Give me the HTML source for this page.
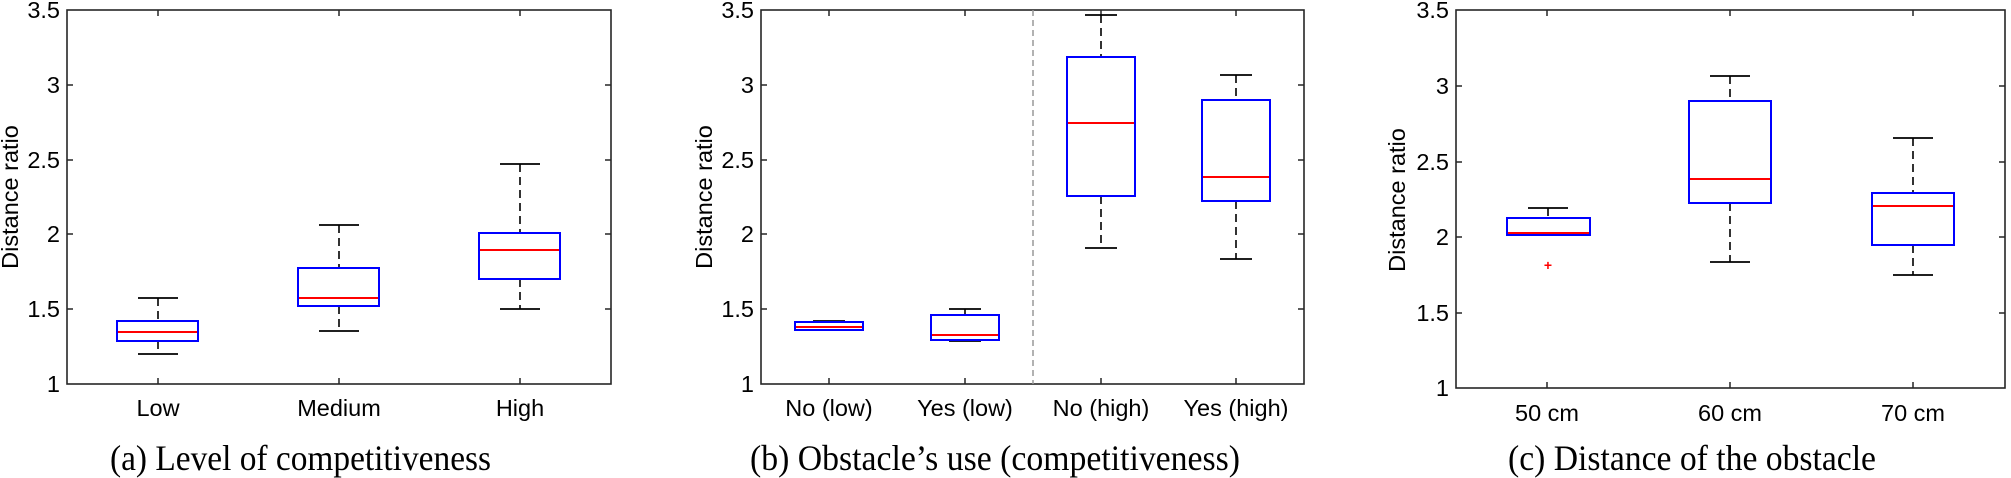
<!DOCTYPE html>
<html><head><meta charset="utf-8"><style>
html,body{margin:0;padding:0;background:#fff;}
svg{display:block;}
.t{font-family:"Liberation Sans",Arial,sans-serif;font-size:23.5px;fill:#000;}
.c{font-family:"Liberation Serif","Times New Roman",serif;font-size:36px;fill:#000;}
.ax{fill:none;stroke:#262626;stroke-width:1.6;}
.bx{fill:none;stroke:#0000ff;stroke-width:2;}
.md{stroke:#ff0000;stroke-width:2;}
.wk{stroke:#000;stroke-width:1.6;stroke-dasharray:8,5;}
.cp{stroke:#000;stroke-width:1.8;}
</style></head><body>
<svg width="2011" height="478" viewBox="0 0 2011 478" xmlns="http://www.w3.org/2000/svg">
<g>
<rect class="ax" x="67" y="10" width="544" height="374"/>
<g stroke="#262626" stroke-width="1.5">
<line x1="67" y1="85" x2="73" y2="85"/><line x1="67" y1="160" x2="73" y2="160"/><line x1="67" y1="234" x2="73" y2="234"/><line x1="67" y1="309" x2="73" y2="309"/>
<line x1="611" y1="85" x2="605" y2="85"/><line x1="611" y1="160" x2="605" y2="160"/><line x1="611" y1="234" x2="605" y2="234"/><line x1="611" y1="309" x2="605" y2="309"/>
<line x1="158" y1="384" x2="158" y2="378"/><line x1="339" y1="384" x2="339" y2="378"/><line x1="520" y1="384" x2="520" y2="378"/>
<line x1="158" y1="10" x2="158" y2="16"/><line x1="339" y1="10" x2="339" y2="16"/><line x1="520" y1="10" x2="520" y2="16"/>
</g>
<g class="t" text-anchor="end">
<text x="60" y="18">3.5</text><text x="60" y="93">3</text><text x="60" y="168">2.5</text><text x="60" y="242">2</text><text x="60" y="317">1.5</text><text x="60" y="392">1</text>
</g>
<text class="t" transform="translate(18,197) rotate(-90)" text-anchor="middle">Distance ratio</text>
<g class="t" text-anchor="middle"><text x="158" y="416">Low</text><text x="339" y="416">Medium</text><text x="520" y="416">High</text></g>
<line class="wk" x1="158" y1="298" x2="158" y2="321"/><line class="wk" x1="158" y1="341" x2="158" y2="354"/>
<line class="cp" x1="138" y1="298" x2="178" y2="298"/><line class="cp" x1="138" y1="354" x2="178" y2="354"/>
<rect class="bx" x="117" y="321" width="81" height="20"/><line class="md" x1="118" y1="332" x2="197" y2="332"/>
<line class="wk" x1="339" y1="225" x2="339" y2="268"/><line class="wk" x1="339" y1="306" x2="339" y2="331"/>
<line class="cp" x1="319" y1="225" x2="359" y2="225"/><line class="cp" x1="319" y1="331" x2="359" y2="331"/>
<rect class="bx" x="298" y="268" width="81" height="38"/><line class="md" x1="299" y1="298" x2="378" y2="298"/>
<line class="wk" x1="520" y1="164" x2="520" y2="233"/><line class="wk" x1="520" y1="279" x2="520" y2="309"/>
<line class="cp" x1="500" y1="164" x2="540" y2="164"/><line class="cp" x1="500" y1="309" x2="540" y2="309"/>
<rect class="bx" x="479" y="233" width="81" height="46"/><line class="md" x1="480" y1="250" x2="559" y2="250"/>
<text class="c" x="110" y="470" textLength="381" lengthAdjust="spacingAndGlyphs">(a)  Level of competitiveness</text>
</g>
<g>
<rect class="ax" x="761" y="10" width="543" height="374"/>
<g stroke="#262626" stroke-width="1.5">
<line x1="761" y1="85" x2="767" y2="85"/><line x1="761" y1="160" x2="767" y2="160"/><line x1="761" y1="234" x2="767" y2="234"/><line x1="761" y1="309" x2="767" y2="309"/>
<line x1="1304" y1="85" x2="1298" y2="85"/><line x1="1304" y1="160" x2="1298" y2="160"/><line x1="1304" y1="234" x2="1298" y2="234"/><line x1="1304" y1="309" x2="1298" y2="309"/>
<line x1="829" y1="384" x2="829" y2="378"/><line x1="965" y1="384" x2="965" y2="378"/><line x1="1101" y1="384" x2="1101" y2="378"/><line x1="1236" y1="384" x2="1236" y2="378"/>
<line x1="829" y1="10" x2="829" y2="16"/><line x1="965" y1="10" x2="965" y2="16"/><line x1="1101" y1="10" x2="1101" y2="16"/><line x1="1236" y1="10" x2="1236" y2="16"/>
</g>
<line x1="1033" y1="10" x2="1033" y2="384" stroke="#999" stroke-width="1.5" stroke-dasharray="6,4"/>
<g class="t" text-anchor="end">
<text x="754" y="18">3.5</text><text x="754" y="93">3</text><text x="754" y="168">2.5</text><text x="754" y="242">2</text><text x="754" y="317">1.5</text><text x="754" y="392">1</text>
</g>
<text class="t" transform="translate(712,197) rotate(-90)" text-anchor="middle">Distance ratio</text>
<g class="t" text-anchor="middle"><text x="829" y="416">No (low)</text><text x="965" y="416">Yes (low)</text><text x="1101" y="416">No (high)</text><text x="1236" y="416">Yes (high)</text></g>
<line class="cp" x1="813" y1="321" x2="845" y2="321"/><line class="cp" x1="813" y1="330" x2="845" y2="330"/>
<rect class="bx" x="795" y="322" width="68" height="8"/><line class="md" x1="796" y1="327" x2="862" y2="327"/>
<line class="wk" x1="965" y1="309" x2="965" y2="315"/>
<line class="cp" x1="949" y1="309" x2="981" y2="309"/><line class="cp" x1="949" y1="341" x2="981" y2="341"/>
<rect class="bx" x="931" y="315" width="68" height="25"/><line class="md" x1="932" y1="335" x2="998" y2="335"/>
<line class="wk" x1="1101" y1="15" x2="1101" y2="57"/><line class="wk" x1="1101" y1="196" x2="1101" y2="248"/>
<line class="cp" x1="1085" y1="15" x2="1117" y2="15"/><line class="cp" x1="1085" y1="248" x2="1117" y2="248"/>
<rect class="bx" x="1067" y="57" width="68" height="139"/><line class="md" x1="1068" y1="123" x2="1134" y2="123"/>
<line class="wk" x1="1236" y1="75" x2="1236" y2="100"/><line class="wk" x1="1236" y1="201" x2="1236" y2="259"/>
<line class="cp" x1="1220" y1="75" x2="1252" y2="75"/><line class="cp" x1="1220" y1="259" x2="1252" y2="259"/>
<rect class="bx" x="1202" y="100" width="68" height="101"/><line class="md" x1="1203" y1="177" x2="1269" y2="177"/>
<text class="c" x="750" y="470" textLength="490" lengthAdjust="spacingAndGlyphs">(b)  Obstacle’s use (competitiveness)</text>
</g>
<g>
<rect class="ax" x="1456" y="10" width="549" height="378"/>
<g stroke="#262626" stroke-width="1.5">
<line x1="1456" y1="86" x2="1462" y2="86"/><line x1="1456" y1="162" x2="1462" y2="162"/><line x1="1456" y1="237" x2="1462" y2="237"/><line x1="1456" y1="313" x2="1462" y2="313"/>
<line x1="2005" y1="86" x2="1999" y2="86"/><line x1="2005" y1="162" x2="1999" y2="162"/><line x1="2005" y1="237" x2="1999" y2="237"/><line x1="2005" y1="313" x2="1999" y2="313"/>
<line x1="1547" y1="388" x2="1547" y2="382"/><line x1="1730" y1="388" x2="1730" y2="382"/><line x1="1913" y1="388" x2="1913" y2="382"/>
<line x1="1547" y1="10" x2="1547" y2="16"/><line x1="1730" y1="10" x2="1730" y2="16"/><line x1="1913" y1="10" x2="1913" y2="16"/>
</g>
<g class="t" text-anchor="end">
<text x="1449" y="18">3.5</text><text x="1449" y="94">3</text><text x="1449" y="170">2.5</text><text x="1449" y="245">2</text><text x="1449" y="321">1.5</text><text x="1449" y="396">1</text>
</g>
<text class="t" transform="translate(1405,200) rotate(-90)" text-anchor="middle">Distance ratio</text>
<g class="t" text-anchor="middle"><text x="1547" y="421">50 cm</text><text x="1730" y="421">60 cm</text><text x="1913" y="421">70 cm</text></g>
<line class="wk" x1="1548" y1="208" x2="1548" y2="218"/>
<line class="cp" x1="1528" y1="208" x2="1568" y2="208"/><line class="cp" x1="1528" y1="235" x2="1568" y2="235"/>
<rect class="bx" x="1507" y="218" width="83" height="17"/><line class="md" x1="1508" y1="233" x2="1589" y2="233"/>
<text x="1548" y="270" text-anchor="middle" font-family="Liberation Sans,sans-serif" font-size="14" font-weight="bold" fill="#ff0000">+</text>
<line class="wk" x1="1730" y1="76" x2="1730" y2="101"/><line class="wk" x1="1730" y1="203" x2="1730" y2="262"/>
<line class="cp" x1="1710" y1="76" x2="1750" y2="76"/><line class="cp" x1="1710" y1="262" x2="1750" y2="262"/>
<rect class="bx" x="1689" y="101" width="82" height="102"/><line class="md" x1="1690" y1="179" x2="1770" y2="179"/>
<line class="wk" x1="1913" y1="138" x2="1913" y2="193"/><line class="wk" x1="1913" y1="245" x2="1913" y2="275"/>
<line class="cp" x1="1893" y1="138" x2="1933" y2="138"/><line class="cp" x1="1893" y1="275" x2="1933" y2="275"/>
<rect class="bx" x="1872" y="193" width="82" height="52"/><line class="md" x1="1873" y1="206" x2="1953" y2="206"/>
<text class="c" x="1508" y="470" textLength="368" lengthAdjust="spacingAndGlyphs">(c)  Distance of the obstacle</text>
</g>
</svg>
</body></html>
